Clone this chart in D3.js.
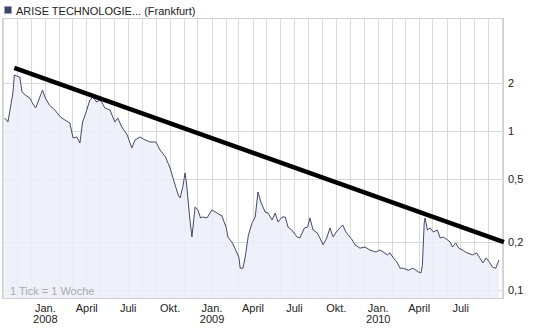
<!DOCTYPE html>
<html>
<head>
<meta charset="utf-8">
<script src="https://cdn.jsdelivr.net/npm/d3@7"></script>
<style>
  body { margin: 0; background: #fff; }
  svg { display: block; font-family: "Liberation Sans", Arial, sans-serif; }
</style>
</head>
<body>
<svg width="545" height="329"></svg>
<script>
var title = "ARISE TECHNOLOGIE... (Frankfurt)";
var tickNote = "1 Tick = 1 Woche";

var dates = [
  "2007-10-05","2007-10-12","2007-10-23","2007-10-26","2007-10-31","2007-11-07","2007-11-12","2007-11-19",
  "2007-11-29","2007-12-06","2007-12-12","2007-12-21","2007-12-27","2008-01-02","2008-01-11","2008-01-23",
  "2008-02-04","2008-02-14","2008-02-25","2008-03-03","2008-03-11","2008-03-18","2008-03-24","2008-03-31",
  "2008-04-09","2008-04-16","2008-04-24","2008-05-02","2008-05-12","2008-05-23","2008-06-03","2008-06-09",
  "2008-06-18","2008-06-30","2008-07-10","2008-07-17","2008-07-28","2008-08-04","2008-08-19","2008-09-01",
  "2008-09-10","2008-09-22","2008-10-02","2008-10-13","2008-10-20","2008-10-24","2008-10-30","2008-11-04",
  "2008-11-07","2008-11-14","2008-11-19","2008-11-26","2008-12-02","2008-12-08","2008-12-12","2008-12-22",
  "2009-01-02","2009-01-13","2009-01-20","2009-01-23","2009-02-02","2009-02-06","2009-02-16","2009-02-23",
  "2009-03-02","2009-03-05","2009-03-11","2009-03-16","2009-03-23","2009-03-31","2009-04-07","2009-04-13",
  "2009-04-20","2009-04-29","2009-05-05","2009-05-14","2009-05-21","2009-05-27","2009-06-05","2009-06-12",
  "2009-06-18","2009-06-26","2009-07-08","2009-07-14","2009-07-24","2009-07-31","2009-08-05","2009-08-12",
  "2009-08-21","2009-08-27","2009-09-03","2009-09-11","2009-09-18","2009-09-25","2009-10-02","2009-10-16",
  "2009-10-23","2009-11-06","2009-11-12","2009-11-23","2009-12-04","2009-12-15","2009-12-28","2010-01-06",
  "2010-01-13","2010-01-22","2010-01-28","2010-02-04","2010-02-12","2010-02-19","2010-02-26","2010-03-09",
  "2010-03-19","2010-03-31","2010-04-06","2010-04-09","2010-04-13","2010-04-15","2010-04-20","2010-04-26",
  "2010-05-03","2010-05-12","2010-05-18","2010-05-25","2010-06-03","2010-06-09","2010-06-14","2010-06-21",
  "2010-06-28","2010-07-06","2010-07-16","2010-07-28","2010-08-06","2010-08-13","2010-08-20","2010-08-27",
  "2010-09-03","2010-09-10","2010-09-17","2010-09-24"
];
var prices = [
  1.199,1.131,1.720,2.230,2.199,2.167,1.745,1.671,
  1.600,1.467,1.385,1.623,1.796,1.600,1.446,1.346,
  1.216,1.165,1.115,0.898,0.911,0.835,1.131,1.288,
  1.555,1.623,1.510,1.555,1.385,1.346,1.131,1.199,
  1.053,0.938,0.777,0.873,0.911,0.885,0.848,0.848,
  0.755,0.683,0.582,0.456,0.394,0.378,0.443,0.542,
  0.469,0.287,0.215,0.332,0.318,0.283,0.287,0.283,
  0.318,0.304,0.295,0.295,0.248,0.215,0.197,0.178,
  0.161,0.137,0.137,0.161,0.221,0.263,0.287,0.412,
  0.351,0.308,0.304,0.275,0.304,0.267,0.287,0.287,
  0.248,0.238,0.215,0.212,0.245,0.248,0.283,0.238,
  0.228,0.212,0.192,0.212,0.245,0.215,0.231,0.256,
  0.231,0.206,0.192,0.183,0.186,0.178,0.173,0.178,
  0.173,0.166,0.171,0.159,0.150,0.137,0.137,0.133,
  0.137,0.130,0.128,0.143,0.263,0.283,0.238,0.245,
  0.231,0.238,0.212,0.215,0.206,0.200,0.186,0.197,
  0.183,0.178,0.171,0.166,0.171,0.159,0.148,0.159,
  0.150,0.139,0.137,0.154
];

// trendlinie
var trendDates = ["2007-10-26", "2010-10-05"];
var trendValues = [2.468, 0.200];

var yTicks = [0.1, 0.2, 0.5, 1, 2];
var yTickLabels = ["0,1", "0,2", "0,5", "1", "2"];
var monthNames = ["Jan.", "", "", "April", "", "", "Juli", "", "", "Okt.", "", ""];

var parse = d3.timeParse("%Y-%m-%d");

var plot_left = 2, plot_right = 503, plot_top = 18, plot_bottom = 298;

var svg = d3.select("svg");

var xScale = d3.scaleTime()
    .domain([parse("2007-09-29"), parse("2010-10-03")])
    .range([plot_left, plot_right]);

var yScale = d3.scaleLog()
    .domain([0.0891, 5.08])
    .range([plot_bottom, plot_top]);

var data = dates.map(function(d, i) { return {date: parse(d), value: prices[i]}; });
var trend = trendDates.map(function(d, i) { return {date: parse(d), value: trendValues[i]}; });

// titel
svg.append("rect")
    .attr("x", 4.5).attr("y", 6.5)
    .attr("width", 7).attr("height", 7)
    .attr("fill", "#3c4468")
    .attr("stroke", "#9aa0b8");

svg.append("text")
    .attr("x", 16).attr("y", 15)
    .attr("font-size", 11)
    .attr("fill", "#222")
    .text(title);

// gitter
var months = d3.timeMonth.range(xScale.domain()[0], xScale.domain()[1]);

svg.append("g")
    .selectAll("line")
    .data(months)
    .enter().append("line")
    .attr("x1", d => Math.round(xScale(d)) + 0.5)
    .attr("x2", d => Math.round(xScale(d)) + 0.5)
    .attr("y1", plot_top)
    .attr("y2", plot_bottom)
    .attr("stroke", "#d9d9d9");

svg.append("g")
    .selectAll("line")
    .data(yTicks)
    .enter().append("line")
    .attr("x1", plot_left)
    .attr("x2", plot_right)
    .attr("y1", d => Math.round(yScale(d)) + 0.5)
    .attr("y2", d => Math.round(yScale(d)) + 0.5)
    .attr("stroke", "#d9d9d9");

// flaeche + linie
var area = d3.area()
    .x(d => xScale(d.date))
    .y0(plot_bottom)
    .y1(d => yScale(d.value));

var line = d3.line()
    .x(d => xScale(d.date))
    .y(d => yScale(d.value));

svg.append("path")
    .attr("d", area(data))
    .attr("fill", "#eceff9")
    .attr("opacity", 0.85);

svg.append("path")
    .attr("d", line(data))
    .attr("fill", "none")
    .attr("stroke", "#434a68")
    .attr("stroke-width", 1);

// rahmen
svg.append("rect")
    .attr("x", plot_left + 0.5).attr("y", plot_top + 0.5)
    .attr("width", plot_right - plot_left).attr("height", plot_bottom - plot_top)
    .attr("fill", "none")
    .attr("stroke", "#d0d0d0");

svg.append("text")
    .attr("x", 10).attr("y", 295)
    .attr("font-size", 11)
    .attr("fill", "#aaaaaa")
    .text(tickNote);

svg.append("path")
    .attr("d", line(trend))
    .attr("fill", "none")
    .attr("stroke", "#000")
    .attr("stroke-width", 4.5);

// achsen beschriftung
var yAxis = d3.axisRight(yScale)
    .tickValues(yTicks)
    .tickFormat((d, i) => yTickLabels[i])
    .tickSize(0)
    .tickPadding(5);

var yg = svg.append("g")
    .attr("transform", "translate(" + plot_right + ",0)")
    .call(yAxis);
yg.select(".domain").remove();
yg.selectAll("text").attr("font-size", 11).attr("fill", "#222").attr("font-family", null);

var quarters = months.filter(d => monthNames[d.getMonth()] != ""
    && xScale(d) > plot_left + 15 && xScale(d) < plot_right - 15);

var xAxis = d3.axisBottom(xScale)
    .tickValues(quarters)
    .tickFormat(d => monthNames[d.getMonth()])
    .tickSize(0)
    .tickPadding(6);

var xg = svg.append("g")
    .attr("transform", "translate(0," + plot_bottom + ")")
    .call(xAxis);
xg.select(".domain").remove();
xg.selectAll("text").attr("font-size", 11).attr("fill", "#222").attr("font-family", null);

xg.selectAll(".tick")
    .filter(d => d.getMonth() == 0)
    .append("text")
    .attr("y", 17)
    .attr("dy", "0.71em")
    .attr("fill", "#222")
    .attr("font-size", 11)
    .attr("text-anchor", "middle")
    .text(d => d.getFullYear());
</script>
</body>
</html>
